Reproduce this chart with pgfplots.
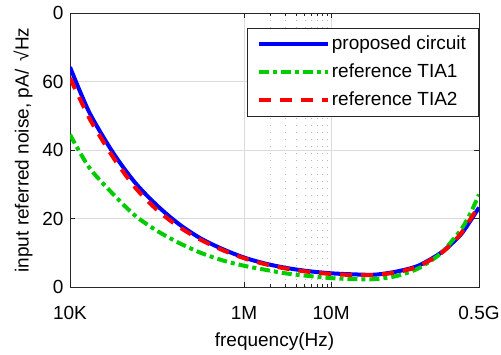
\documentclass[border=0pt]{standalone}
\usepackage{fontspec}
\setmainfont{Liberation Sans}
\usepackage{pgfplots}
\pgfplotsset{compat=1.18}
\definecolor{mblue}{RGB}{0,0,255}
\definecolor{mgreen}{RGB}{0,204,0}
\definecolor{mred}{RGB}{255,0,0}
\definecolor{axcol}{RGB}{38,38,38}
\newcommand{\ff}{\fontsize{19}{22}\selectfont}
\begin{document}
\begin{tikzpicture}[font=\ff]
\path[use as bounding box] (-70pt,-67pt) rectangle (431pt,287pt);
\begin{axis}[
  at={(0,0)}, anchor=south west,
  scale only axis, width=409pt, height=274pt,
  xmode=log, xmin=1e4, xmax=5e8, ymin=0, ymax=80,
  xtick={1e4,1e6,1e7,5e8}, xticklabels={10K,1M,10M,0.5G},
  minor xtick={2e6,3e6,4e6,5e6,6e6,7e6,8e6,9e6},
  ytick={0,20,40,60,80}, yticklabels={0,20,40,60,0},
  tick align=inside,
  major tick length=5pt, minor tick length=3pt,
  axis line style={axcol, line width=1pt},
  every tick/.style={axcol, line width=1pt},
  grid=both,
  major grid style={black!14, line width=0.8pt},
  minor grid style={black!28, line width=0.7pt, dash pattern=on 1pt off 6pt},
  xticklabel style={font=\ff, anchor=base, yshift=-32pt},
  yticklabel style={font=\ff, anchor=east, xshift=-3pt},
  xlabel={frequency(Hz)},
  ylabel={input referred noise, pA/ \,√Hz},
  xlabel style={font=\ff, at={(axis description cs:0.5,-0.2)}, anchor=center},
  ylabel style={font=\ff, at={(axis description cs:-0.115,0.5)}, anchor=center},
  legend style={font=\ff, at={(rel axis cs:0.9976,0.945)}, anchor=north east, outer sep=0pt,
    draw=axcol, line width=0.8pt, fill=white, inner xsep=10pt, inner ysep=5pt, row sep=6pt,
    nodes={inner xsep=2pt, inner ysep=2pt, text height=14pt, text depth=4pt}},
  legend cell align=left,
  legend image code/.code={\draw[#1] (0pt,0pt) -- (69pt,0pt);},
]
\addplot[mblue, line width=4pt, smooth] coordinates {
(1e4,64.2) (1.3335e4,56.5) (1.7783e4,49.6) (3.1623e4,39.0) (5.6234e4,30.4)
(1e5,23.8) (1.7783e5,18.4) (3.1623e5,14.2) (5.6234e5,11.1) (1e6,8.6)
(1.7783e6,6.8) (3.1623e6,5.5) (5.6234e6,4.6) (1e7,4.0) (1.7783e7,3.7)
(3.1623e7,3.6) (5.6234e7,4.5) (1e8,6.2) (1.7783e8,9.8) (2.5119e8,13.0)
(3.1623e8,15.6) (3.9811e8,19.3) (5e8,23.2)
};
\addlegendentry{proposed circuit}
\addplot[mgreen, line width=4pt, smooth, dash pattern=on 10pt off 4pt on 4pt off 4pt] coordinates {
(1e4,44.5) (1.3335e4,38.8) (1.7783e4,33.9) (3.1623e4,27.0) (5.6234e4,20.8)
(1e5,16.4) (1.7783e5,12.9) (3.1623e5,10.0) (5.6234e5,7.8) (1e6,6.2)
(1.7783e6,5.0) (3.1623e6,3.9) (5.6234e6,3.2) (1e7,2.6) (1.7783e7,2.3)
(3.1623e7,2.3) (5.6234e7,3.2) (1e8,5.4) (1.7783e8,9.6) (2.5119e8,13.8)
(3.1623e8,17.0) (3.9811e8,21.5) (5e8,27.0)
};
\addlegendentry{reference TIA1}
\addplot[mred, line width=4pt, smooth, dash pattern=on 12pt off 9pt] coordinates {
(1e4,61.0) (1.3335e4,54.3) (1.7783e4,48.0) (3.1623e4,37.7) (5.6234e4,29.0)
(1e5,22.5) (1.7783e5,17.6) (3.1623e5,13.8) (5.6234e5,10.8) (1e6,8.4)
(1.7783e6,6.6) (3.1623e6,5.3) (5.6234e6,4.4) (1e7,3.8) (1.7783e7,3.5)
(3.1623e7,3.5) (5.6234e7,4.3) (1e8,6.0) (1.7783e8,9.6) (2.5119e8,13.0)
(3.1623e8,15.9) (3.9811e8,19.8) (5e8,23.6)
};
\addlegendentry{reference TIA2}
\end{axis}
\end{tikzpicture}
\end{document}
